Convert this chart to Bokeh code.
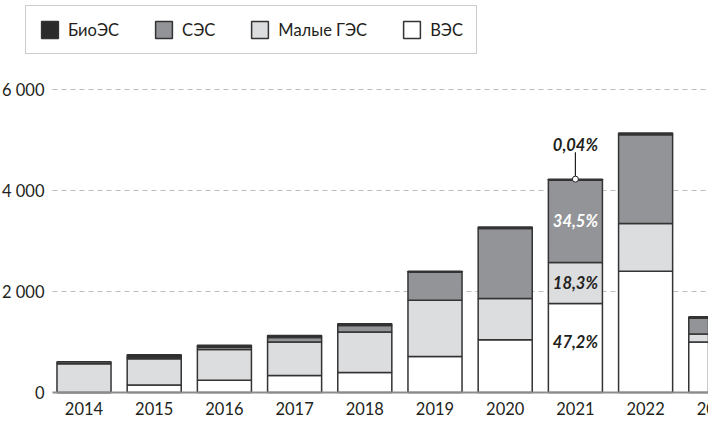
from bokeh.plotting import figure
from bokeh.models import Range1d, Legend, LegendItem, ColumnDataSource
from bokeh.core.properties import value
from bokeh.embed import file_html
from bokeh.resources import INLINE

years = [2014, 2015, 2016, 2017, 2018, 2019, 2020, 2021, 2022, 2023]
year_labels = [str(y) for y in years]
wind = [0, 147, 244, 336, 395, 713, 1045, 1762, 2400, 1000]      # ВЭС
hydro = [571, 521, 606, 664, 801, 1114, 815, 813, 945, 157]     # Малые ГЭС
solar = [37, 32, 45, 90, 129, 553, 1388, 1630, 1759, 312]       # СЭС
bio = [0, 49, 43, 37, 37, 23, 29, 20, 35, 29]                   # БиоЭС
series_names = ["ВЭС", "Малые ГЭС", "СЭС", "БиоЭС"]
series_keys = ["wind", "hydro", "solar", "bio"]
series_colors = ["#ffffff", "#dcdddf", "#929497", "#2b2b2b"]
y_ticks = [0, 2000, 4000, 6000]
y_tick_labels = ["0", "2 000", "4 000", "6 000"]

note_year = 2021
share_labels = ["47,2%", "18,3%", "34,5%"]
bio_share_label = "0,04%"

FONT = "Lato"
FS = "16.5px"
TXT = "#231f20"
OUTLINE = "#333333"

# layout (screen pixels)
W, H = 708, 420
BASE_PX = 392               # baseline position from the top of the frame
PX_PER_YEAR = 70.2
PX_PER_UNIT = 0.0505
PLOT_LEFT_PX = 52           # where grid / baseline start
X0 = 2014 - 83.5 / PX_PER_YEAR
X1 = X0 + W / PX_PER_YEAR
Y0 = -(H - BASE_PX) / PX_PER_UNIT
Y1 = BASE_PX / PX_PER_UNIT
GX0 = X0 + PLOT_LEFT_PX / PX_PER_YEAR

src = ColumnDataSource(dict(year=years, wind=wind, hydro=hydro, solar=solar, bio=bio))

p = figure(width=W, height=H, output_backend="svg", toolbar_location=None,
           x_range=Range1d(X0, X1), y_range=Range1d(Y0, Y1),
           x_axis_location=None, y_axis_location=None,
           min_border_left=0, min_border_right=0, min_border_top=0,
           min_border_bottom=0)
p.outline_line_color = None
p.background_fill_color = "white"
p.border_fill_color = "white"
p.grid.visible = False

# dashed grid lines
p.segment(x0=GX0, y0=y_ticks[1:], x1=X1, y1=y_ticks[1:],
          line_color="#bdbdbd", line_width=1, line_dash="5 4")

rs = p.vbar_stack(series_keys, x="year", width=0.77, source=src,
                  fill_color=series_colors, line_color=OUTLINE, line_width=1.5)

# zero baseline
p.segment(x0=GX0, y0=y_ticks[0], x1=X1, y1=y_ticks[0],
          line_color="#8c8c8c", line_width=2)

# y tick labels and year labels
p.text(x=X0, y=y_ticks, text=y_tick_labels, x_offset=PLOT_LEFT_PX - 8,
       text_font=value(FONT), text_font_size=FS, text_color=TXT,
       text_align="right", text_baseline="middle")
p.text(x=years, y=0, text=year_labels, y_offset=16,
       text_font=value(FONT), text_font_size=FS, text_color=TXT,
       text_align="center", text_baseline="middle")

legend = Legend(items=[LegendItem(label=series_names[i], renderers=[rs[i]]) for i in [3, 2, 1, 0]],
                orientation="horizontal", location=(25, H - 54),
                glyph_width=21, glyph_height=21, label_standoff=8, spacing=34,
                padding=13, margin=0, border_line_color="#9a9a9a", border_line_width=1.5,
                label_text_font=FONT, label_text_font_size=FS, label_text_color=TXT,
                background_fill_color="white", background_fill_alpha=1)
p.add_layout(legend, "center")

# annotations for 2021
i = years.index(note_year)
w, h, s, b = wind[i], hydro[i], solar[i], bio[i]
p.text(x=[note_year], y=[w / 2], text=[share_labels[0]], y_offset=-6,
       text_font=value(FONT), text_font_size=FS, text_font_style="bold italic",
       text_color=TXT, text_align="center", text_baseline="middle")
p.text(x=[note_year], y=[w + h / 2], text=[share_labels[1]],
       text_font=value(FONT), text_font_size=FS, text_font_style="bold italic",
       text_color=TXT, text_align="center", text_baseline="middle")
p.text(x=[note_year], y=[w + h + s / 2], text=[share_labels[2]],
       text_font=value(FONT), text_font_size=FS, text_font_style="bold italic",
       text_color="white", text_align="center", text_baseline="middle")
total = w + h + s + b
top_line = total + 27 / PX_PER_UNIT
p.segment(x0=[note_year], y0=[total], x1=[note_year], y1=[top_line],
          line_color=TXT, line_width=1.2)
p.scatter(x=[note_year], y=[total], size=6, fill_color="white",
          line_color=TXT, line_width=1)
p.text(x=[note_year], y=[top_line], text=[bio_share_label], text_font=value(FONT),
       text_font_size=FS, text_font_style="bold italic", text_color=TXT,
       text_align="center", text_baseline="alphabetic", y_offset=-7)

open("out.html", "w").write(file_html(p, INLINE))
